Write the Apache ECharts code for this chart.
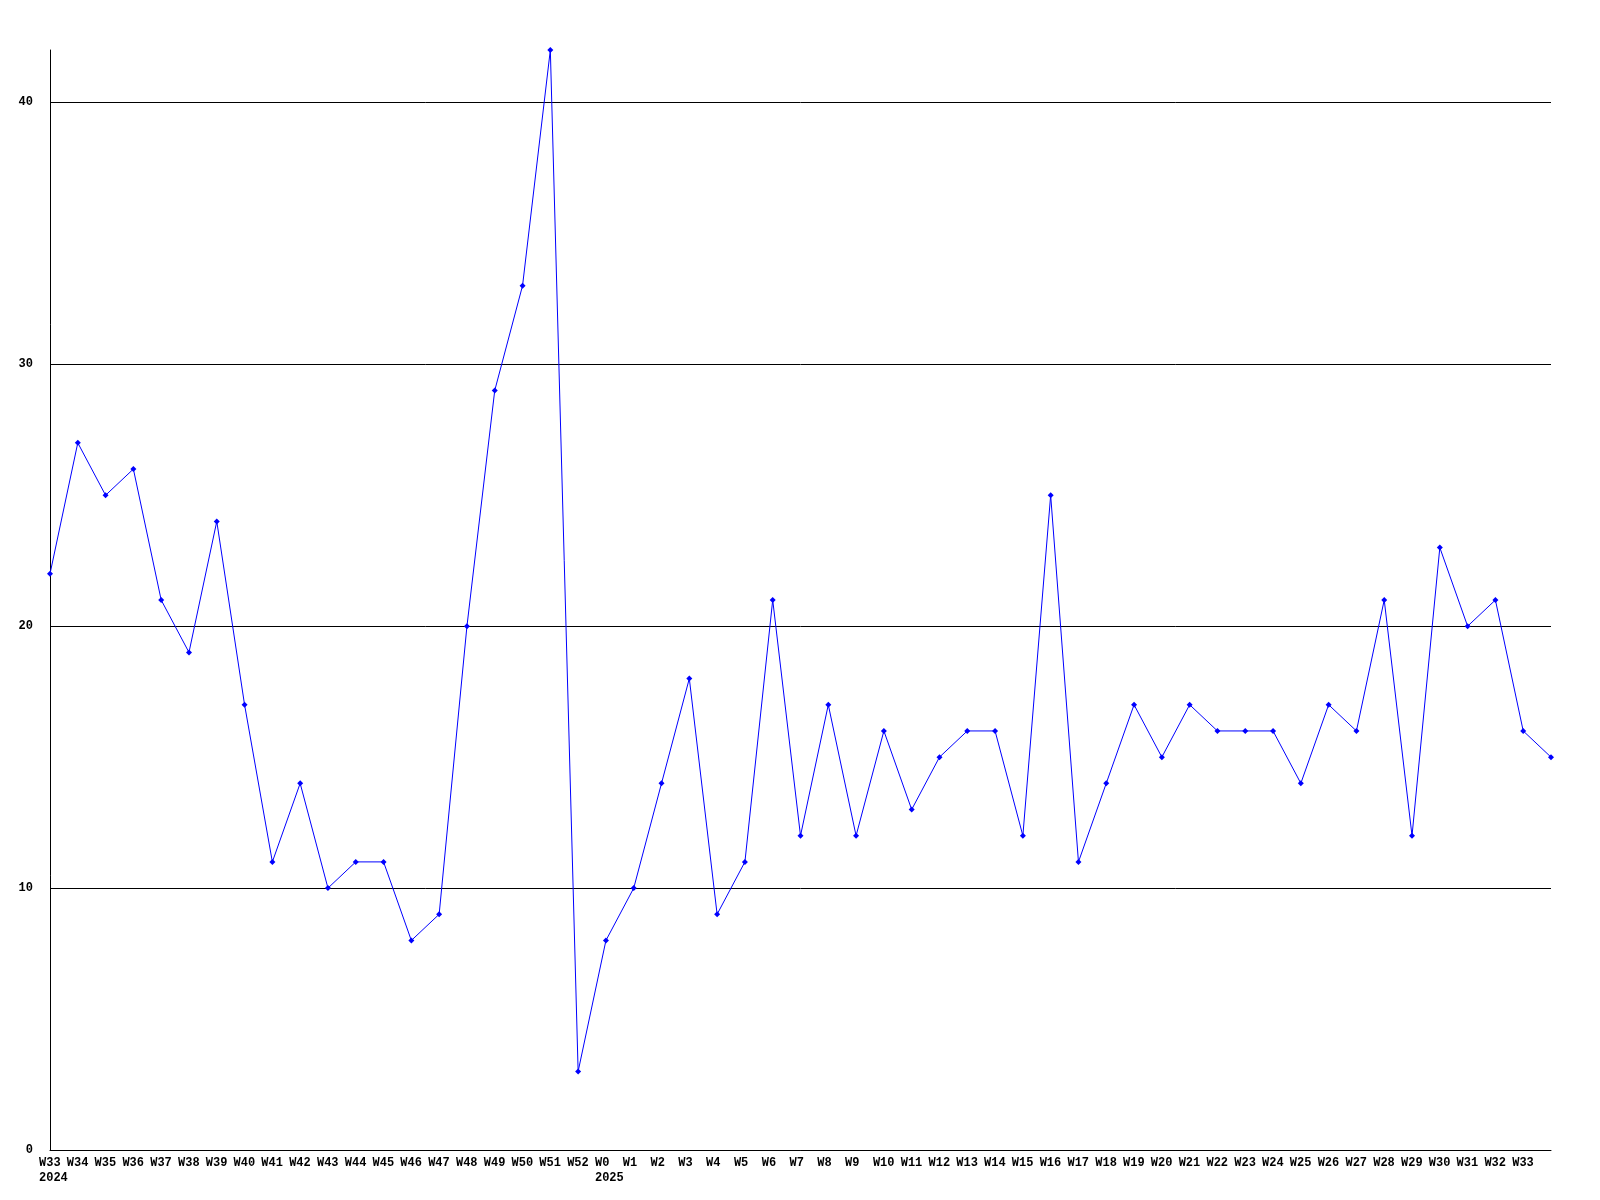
<!DOCTYPE html>
<html>
<head>
<meta charset="utf-8">
<script src="https://cdn.jsdelivr.net/npm/echarts@6/dist/echarts.min.js"></script>
<style>html,body{margin:0;padding:0;background:#fff}#c{width:1600px;height:1200px}</style>
</head>
<body>
<div id="c"></div>
<script>
const categories = ["W33\n2024","W34","W35","W36","W37","W38","W39","W40","W41","W42","W43","W44","W45","W46","W47","W48","W49","W50","W51","W52",
  "W0\n2025","W1","W2","W3","W4","W5","W6","W7","W8","W9","W10","W11","W12","W13","W14","W15","W16","W17","W18","W19","W20","W21","W22","W23","W24","W25","W26","W27","W28","W29","W30","W31","W32","W33",""];
const values = [22,27,25,26,21,19,24,17,11,14,10,11,11,8,9,20,29,33,42,3,
  8,10,14,18,9,11,21,12,17,12,16,13,15,16,16,12,25,11,14,17,15,17,16,16,16,14,17,16,21,12,23,20,21,16,15];
const yTicks = [0,10,20,30,40];

const chart = echarts.init(document.getElementById('c'), null, {renderer:'canvas'});
chart.setOption({
  animation:false,
  backgroundColor:'#fff',
  grid:{left:50,right:49,top:50,bottom:50,containLabel:false},
  xAxis:{
    type:'category',
    data:categories,
    boundaryGap:false,
    axisLine:{lineStyle:{color:'#000',width:1}},
    axisTick:{show:false},
    axisLabel:{interval:0,color:'#000',fontFamily:'Liberation Mono',fontWeight:'bold',fontSize:12,lineHeight:15,margin:5,align:'center',
      formatter:function(v){ if(!v) return ''; return v.split('\n').map(function(s){return '{a|'+s+'}';}).join('\n'); },
      rich:{a:{width:22,align:'left',color:'#000',fontFamily:'Liberation Mono',fontWeight:'bold',fontSize:12,lineHeight:15}}
    },
    splitLine:{show:false}
  },
  yAxis:{
    type:'value',
    min:0,max:42,interval:10,
    axisLine:{show:true,lineStyle:{color:'#000',width:1}},
    axisTick:{show:false},
    axisLabel:{color:'#000',fontFamily:'Liberation Mono',fontWeight:'bold',fontSize:12,margin:17,
      formatter:function(v){return yTicks.indexOf(v)>=0?String(v):'';}},
    splitLine:{show:true,lineStyle:{color:['#000','#000','#000','#000','#000','rgba(0,0,0,0)'],width:1}}
  },
  series:[{
    type:'line',
    data:values,
    symbol:'diamond',
    symbolSize:6,
    showAllSymbol:true,
    itemStyle:{color:'#0000ff'},
    lineStyle:{color:'#0000ff',width:1},
    clip:false
  }]
});
</script>
</body>
</html>
